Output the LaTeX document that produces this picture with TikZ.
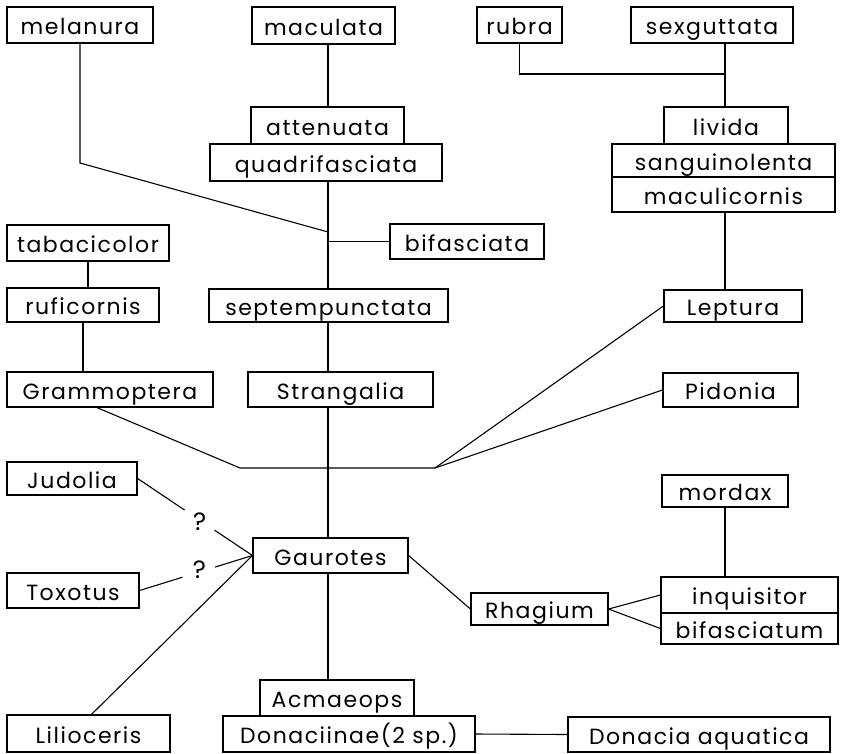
\documentclass[tikz,border=0pt]{standalone}
\usepackage{fontspec}
\setmainfont[LetterSpace=7]{Poppins}
\usetikzlibrary{calc}
\begin{document}
\begin{tikzpicture}[x=1pt,y=-1pt,
  box/.style={draw, line width=1.2pt, inner sep=0pt, text height=19.5pt, text depth=0pt,
    font=\fontsize{22}{24}\selectfont},
  conn/.style={line width=1.1pt},
  qmark/.style={inner sep=0pt, font=\fontsize{25}{26}\selectfont}]
\useasboundingbox (0,0) rectangle (843,753);
% boxes
\node[box, minimum width=146pt, minimum height=36pt] (melanura) at (80,25) {melanura};
\node[box, minimum width=143pt, minimum height=37pt] (maculata) at (323.5,25.5) {maculata};
\node[box, minimum width=85pt, minimum height=36pt] (rubra) at (519.5,25) {rubra};
\node[box, minimum width=162pt, minimum height=36pt] (sexguttata) at (712,25) {sexguttata};
\node[box, minimum width=153pt, minimum height=37pt] (attenuata) at (327.5,125.5) {attenuata};
\node[box, minimum width=232pt, minimum height=37pt] (quadrifasciata) at (326,162.5) {quadrifasciata};
\node[box, minimum width=124pt, minimum height=37pt] (livida) at (726,125.5) {livida};
\node[box, minimum width=223pt, minimum height=33pt] (sanguinolenta) at (723.5,160.5) {sanguinolenta};
\node[box, minimum width=223pt, minimum height=35pt] (maculicornis) at (723.5,194.5) {maculicornis};
\node[box, minimum width=162pt, minimum height=36pt] (tabacicolor) at (88,243) {tabacicolor};
\node[box, minimum width=154pt, minimum height=35pt] (bifasciata) at (467,241.5) {bifasciata};
\node[box, minimum width=152pt, minimum height=34pt] (ruficornis) at (83,305) {ruficornis};
\node[box, minimum width=239pt, minimum height=33pt] (septempunctata) at (328.5,305.5) {septempunctata};
\node[box, minimum width=138pt, minimum height=32pt] (Leptura) at (733,306) {Leptura};
\node[box, minimum width=206pt, minimum height=35pt] (Grammoptera) at (110,389.5) {Grammoptera};
\node[box, minimum width=185pt, minimum height=35pt] (Strangalia) at (340.5,389.5) {Strangalia};
\node[box, minimum width=135pt, minimum height=34pt] (Pidonia) at (730.5,390) {Pidonia};
\node[box, minimum width=130pt, minimum height=33pt] (Judolia) at (72,478.5) {Judolia};
\node[box, minimum width=126pt, minimum height=32pt] (mordax) at (725,491) {mordax};
\node[box, minimum width=155pt, minimum height=35pt] (Gaurotes) at (330.5,555.5) {Gaurotes};
\node[box, minimum width=132pt, minimum height=35pt] (Toxotus) at (73,590.5) {Toxotus};
\node[box, minimum width=177pt, minimum height=36pt] (inquisitor) at (749.5,595) {inquisitor};
\node[box, minimum width=177pt, minimum height=31pt] (bifasciatum) at (749.5,628.5) {bifasciatum};
\node[box, minimum width=137pt, minimum height=32pt] (Rhagium) at (539.5,609) {Rhagium};
\node[box, minimum width=154pt, minimum height=36pt] (Acmaeops) at (337,698) {Acmaeops};
\node[box, minimum width=252pt, minimum height=36pt] (Donaciinae) at (349,734) {Donaciinae(2 sp.)};
\node[box, minimum width=262pt, minimum height=35pt] (Donacia) at (699,734.5) {Donacia aquatica};
\node[box, minimum width=163pt, minimum height=37pt] (Lilioceris) at (88.5,733.5) {Lilioceris};
% helper coordinates
\coordinate (mx) at (328,0);
\coordinate (rx) at (725,0);
\coordinate (mbend) at (80,163);
\coordinate (mj) at (328,232);
\coordinate (rj) at (725,74);
\coordinate (h1) at (240,468);
\coordinate (h2) at (435,468);
% main trunk
\draw[conn] (maculata.south -| mx) -- (attenuata.north -| mx);
\draw[conn] (quadrifasciata.south -| mx) -- (septempunctata.north -| mx);
\draw[conn] (septempunctata.south -| mx) -- (Strangalia.north -| mx);
\draw[conn] (Strangalia.south -| mx) -- (Gaurotes.north -| mx);
\draw[conn] (Gaurotes.south -| mx) -- (Acmaeops.north -| mx);
\draw[conn] (melanura.south) -- (mbend) -- (mj);
\draw[conn] (bifasciata.west) -- (bifasciata.west -| mx);
% right column
\draw[conn] (rubra.south) |- (rj);
\draw[conn] (sexguttata.south -| rx) -- (livida.north -| rx);
\draw[conn] (maculicornis.south -| rx) -- (Leptura.north -| rx);
% left column
\draw[conn] (tabacicolor.south) -- (tabacicolor.south |- ruficornis.north);
\draw[conn] (ruficornis.south) -- (ruficornis.south |- Grammoptera.north);
\draw[conn] ([xshift=-13pt]Grammoptera.south) -- (h1) -- (h2);
\draw[conn] (h2) -- (Leptura.west);
\draw[conn] (h2) -- (Pidonia.west);
% uncertain links
\draw[conn] (Judolia.east) -- ($(Judolia.east)!0.41!(Gaurotes.west)$);
\draw[conn] ($(Judolia.east)!0.67!(Gaurotes.west)$) -- (Gaurotes.west);
\node[qmark] (q1) at ($(Judolia.east)!0.54!(Gaurotes.west)+(0,2)$) {?};
\draw[conn] (Toxotus.east) -- ($(Toxotus.east)!0.38!(Gaurotes.west)$);
\draw[conn] ($(Toxotus.east)!0.67!(Gaurotes.west)$) -- (Gaurotes.west);
\node[qmark] (q2) at ($(Toxotus.east)!0.53!(Gaurotes.west)+(0,-2)$) {?};
\draw[conn] ([xshift=3pt]Lilioceris.north) -- (Gaurotes.west);
% Rhagium group
\draw[conn] (Gaurotes.east) -- (Rhagium.west);
\draw[conn] (Rhagium.east) -- (inquisitor.west);
\draw[conn] (Rhagium.east) -- (bifasciatum.west);
\draw[conn] (mordax.south) -- (mordax.south |- inquisitor.north);
\draw[conn] (Donaciinae.east) -- (Donacia.west);
\end{tikzpicture}
\end{document}
